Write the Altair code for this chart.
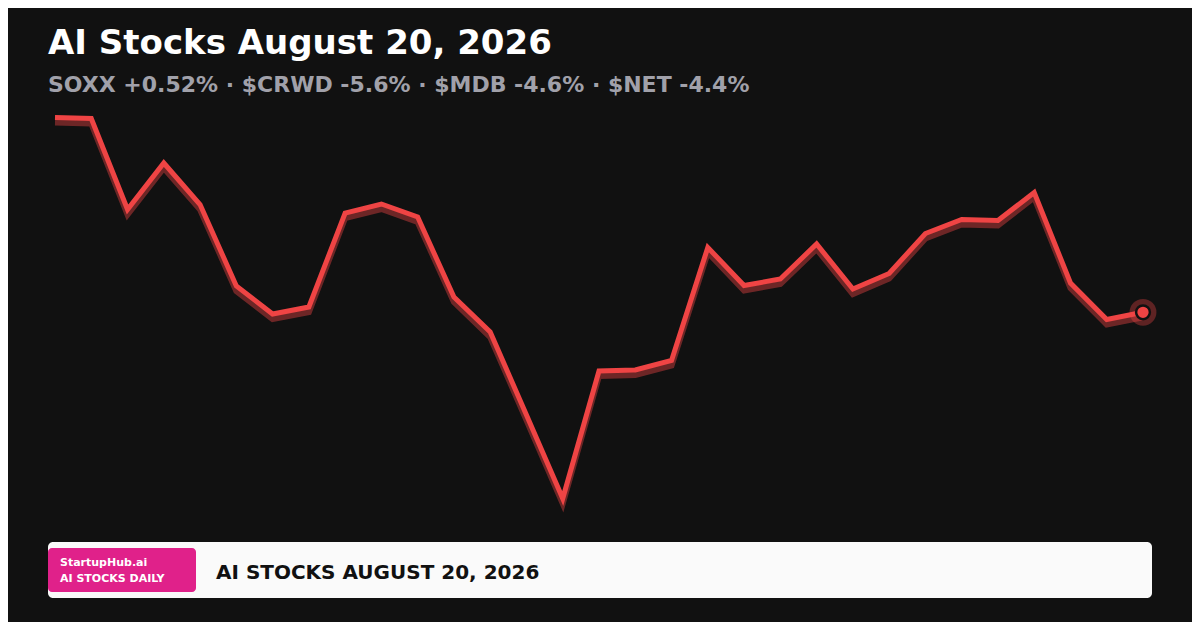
import altair as alt
import pandas as pd

# ---- data ----
days = list(range(31))
prices = [238.25, 238.15, 229.05, 233.70, 229.55, 221.40, 218.60, 219.30, 228.70, 229.60,
          228.30, 220.30, 216.80, 208.50, 200.15, 212.90, 213.00, 213.95, 225.25, 221.45,
          222.10, 225.60, 221.10, 222.65, 226.65, 228.05, 227.95, 230.75, 221.70, 218.05,
          218.77]
title_text = "AI Stocks August 20, 2026"
subtitle_text = "SOXX +0.52% \u00b7 $CRWD -5.6% \u00b7 $MDB -4.6% \u00b7 $NET -4.4%"
brand_name = "StartupHub.ai"
brand_tag = "AI STOCKS DAILY"
footer_text = "AI STOCKS AUGUST 20, 2026"

df = pd.DataFrame({"day": days, "price": prices})
last = df.tail(1)

W, H = 1184, 614
FONT = "DejaVu Sans"

xs = alt.Scale(domain=[0, 30], range=[47, 1135])
ys = alt.Scale(domain=[min(prices), max(prices)], range=[490.5, 109.5], nice=False, zero=False)
X = alt.X("day:Q", scale=xs, axis=None)
Y = alt.Y("price:Q", scale=ys, axis=None)

base = alt.Chart(df)
shadow = base.mark_line(color="#ef4444", opacity=0.42, strokeWidth=6, yOffset=5,
                        strokeJoin="miter", strokeCap="butt").encode(x=X, y=Y)
line = base.mark_line(color="#ef4444", strokeWidth=5, strokeJoin="miter",
                      strokeCap="butt").encode(x=X, y=Y)
halo = alt.Chart(last).mark_point(filled=True, color="#ef4444", opacity=0.35, size=720,
                                  shape="circle").encode(x=X, y=Y)
dot = alt.Chart(last).mark_point(filled=True, fill="#ef4444", stroke="#111111", strokeWidth=2.5,
                                 opacity=1, size=190, shape="circle").encode(x=X, y=Y)

one = pd.DataFrame({"k": [0]})

def txt(text, x, y, size, color, weight="bold", baseline="alphabetic"):
    return alt.Chart(one).mark_text(text=text, align="left", baseline=baseline, font=FONT,
                                    fontSize=size, fontWeight=weight, color=color).encode(
        x=alt.value(x), y=alt.value(y))

title = txt(title_text, 40, 46, 34, "#ffffff")
subtitle = txt(subtitle_text, 40, 84, 22, "#a1a1aa")

footer_bg = alt.Chart(one).mark_rect(color="#fafafa", cornerRadius=5).encode(
    x=alt.value(40), x2=alt.value(1144), y=alt.value(534), y2=alt.value(590))
pink = alt.Chart(one).mark_rect(color="#e0218a", cornerRadius=4).encode(
    x=alt.value(40), x2=alt.value(188), y=alt.value(540), y2=alt.value(584))
brand1 = txt(brand_name, 52, 558, 11, "#ffffff")
brand2 = txt(brand_tag, 52, 574, 11, "#ffffff")
foot = txt(footer_text, 208, 565, 20, "#111111", baseline="middle")

chart = alt.layer(shadow, line, halo, dot, title, subtitle, footer_bg, pink, brand1, brand2, foot).properties(
    width=W, height=H, padding=0, background="#111111",
    autosize=alt.AutoSizeParams(type="none")
).configure_view(stroke=None, fill="#111111")

chart.save("out.html", embed_options={"renderer": "svg", "actions": False})
